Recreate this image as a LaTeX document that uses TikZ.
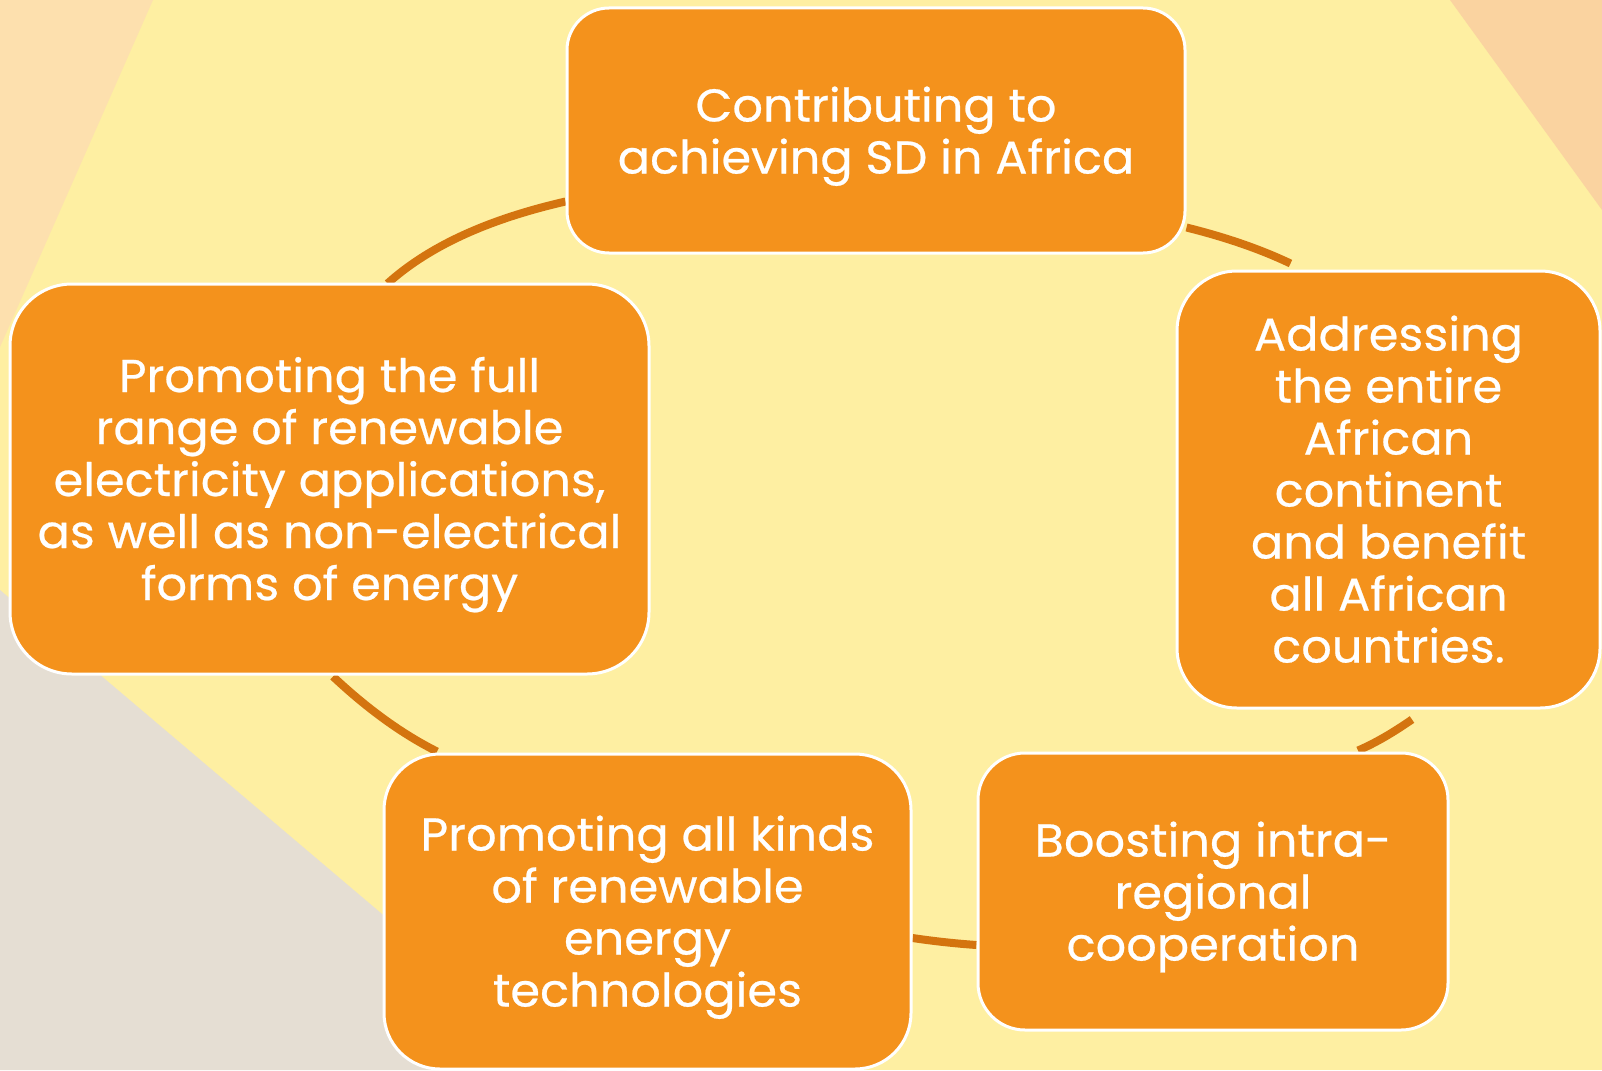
\documentclass[tikz,border=0pt]{standalone}
\usepackage{fontspec}
\setmainfont{Poppins}[FakeStretch=1.04, FakeBold=0.5]
\usetikzlibrary{backgrounds}
\definecolor{bgmain}{HTML}{FEEFA2}
\definecolor{bgpeachL}{HTML}{FDE0AE}
\definecolor{bgpeachR}{HTML}{FAD3A0}
\definecolor{bggrey}{HTML}{E5DED3}
\definecolor{boxfill}{HTML}{F4921C}
\definecolor{arccol}{HTML}{D4740F}
\newcommand\topstrut{\rule{0pt}{48pt}}
\newcommand\botstrut{\rule[-14pt]{0pt}{14pt}}
\tikzset{
  stepbox/.style={draw=white, line width=3pt, fill=boxfill, text=white, align=center,
    inner sep=0pt, font=\fontsize{46}{52}\selectfont},
  conn/.style={draw=arccol, line width=8pt, looseness=0.85},
}
\begin{document}
\begin{tikzpicture}[x=1pt,y=-1pt]
\useasboundingbox (0,0) rectangle (1602,1070);
\node[stepbox, minimum width=618pt, minimum height=245pt, rounded corners=42pt] (top) at (876,130.5)
  {\topstrut Contributing to\\achieving SD in Africa\botstrut};
\node[stepbox, minimum width=423pt, minimum height=437pt, rounded corners=60pt] (right) at (1388.5,489.5)
  {\topstrut Addressing\\the entire\\African\\continent\\and benefit\\all African\\countries.\botstrut};
\node[stepbox, minimum width=470pt, minimum height=277pt, rounded corners=47pt] (br) at (1213,891.5)
  {\topstrut Boosting intra-\\regional\\cooperation\botstrut};
\node[stepbox, minimum width=527pt, minimum height=315pt, rounded corners=56pt] (bl) at (647.5,911.5)
  {\topstrut Promoting all kinds\\of renewable\\energy\\technologies\botstrut};
\node[stepbox, minimum width=639pt, minimum height=390pt, rounded corners=62pt] (left) at (329.5,479)
  {\topstrut Promoting the full\\range of renewable\\electricity applications,\\as well as non-electrical\\forms of energy\botstrut};
\begin{scope}[on background layer]
  \fill[bgmain] (0,0) rectangle (1602,1070);
  \fill[bgpeachL] (0,0) -- (153,0) -- (0,347) -- cycle;
  \fill[bgpeachR] (1450,0) -- (1602,0) -- (1602,210) -- cycle;
  \fill[bggrey] (0,590) -- (566,1070) -- (0,1070) -- cycle;
  \draw[conn] ([yshift=-71pt]top.west) to[out=193,in=42] ([xshift=58pt,yshift=-1pt]left.north);
  \draw[conn] ([yshift=-97pt]top.east) to[out=346,in=154.6] ([xshift=-98pt,yshift=6pt]right.north);
  \draw[conn] ([xshift=23.5pt,yshift=-10pt]right.south) to[out=214.6,in=23.3] ([xshift=145pt,yshift=1pt]br.north);
  \draw[conn] ([yshift=-26.5pt]bl.east) to[out=-8.5,in=176] ([yshift=-53.5pt]br.west);
  \draw[conn] ([xshift=3.5pt,yshift=-1pt]left.south) to[out=-43.2,in=153.4] ([xshift=-210.5pt,yshift=1pt]bl.north);
\end{scope}
\end{tikzpicture}
\end{document}
